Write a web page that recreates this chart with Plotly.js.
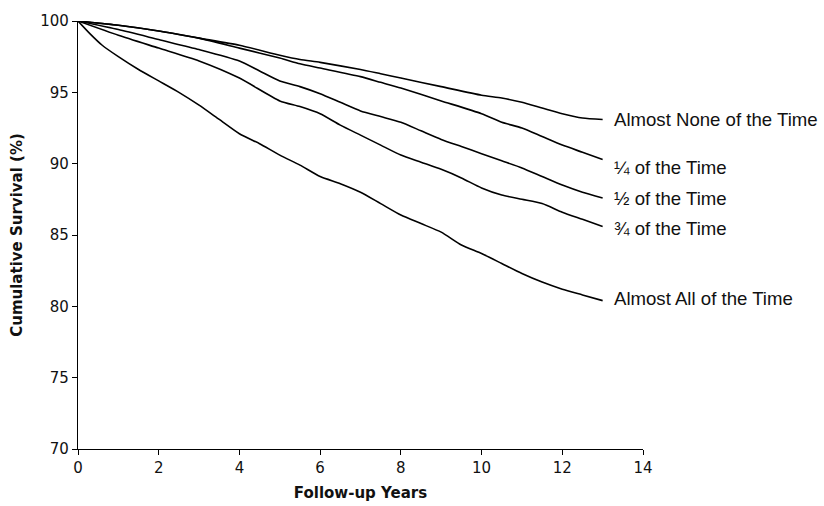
<!DOCTYPE html>
<html>
<head>
<meta charset="utf-8">
<script src="https://cdn.plot.ly/plotly-3.0.1.min.js"></script>
<style>html,body{margin:0;padding:0;background:#fff;}#chart{width:824px;height:506px;}</style>
</head>
<body>
<div id="chart"></div>
<script>
// Follow-up years (x) for each curve
var yearsNone = [0, 1, 2, 3, 4, 5, 5.5, 6, 7, 7.5, 8, 9, 10, 10.5, 11, 11.5, 12, 12.5, 13];
var survNone  = [100, 99.7, 99.3, 98.8, 98.3, 97.6, 97.3, 97.1, 96.6, 96.3, 96.0, 95.4, 94.8, 94.6, 94.3, 93.9, 93.5, 93.2, 93.1];

var yearsQuarter = [0, 1, 2, 3, 4, 5, 5.5, 6, 7, 7.5, 8, 9, 10, 10.5, 11, 11.5, 12, 12.5, 13];
var survQuarter  = [100, 99.7, 99.3, 98.8, 98.1, 97.4, 97.0, 96.7, 96.1, 95.7, 95.3, 94.4, 93.5, 92.9, 92.5, 91.9, 91.3, 90.8, 90.3];

var yearsHalf = [0, 1, 2, 3, 4, 4.5, 5, 5.5, 6, 6.5, 7, 7.5, 8, 8.5, 9, 9.5, 10, 10.5, 11, 11.5, 12, 12.5, 13];
var survHalf  = [100, 99.4, 98.7, 98.0, 97.2, 96.5, 95.8, 95.4, 94.9, 94.3, 93.7, 93.3, 92.9, 92.3, 91.7, 91.2, 90.7, 90.2, 89.7, 89.1, 88.5, 88.0, 87.6];

var yearsThreeQ = [0, 1, 2, 3, 4, 5, 5.5, 6, 6.5, 7, 7.5, 8, 8.5, 9, 9.5, 10, 10.5, 11, 11.5, 12, 12.5, 13];
var survThreeQ  = [100, 99.0, 98.1, 97.2, 96.0, 94.4, 94.0, 93.5, 92.7, 92.0, 91.3, 90.6, 90.1, 89.6, 89.0, 88.3, 87.8, 87.5, 87.2, 86.6, 86.1, 85.6];

var yearsAll = [0, 0.3, 0.6, 1, 1.5, 2, 2.5, 3, 3.5, 4, 4.5, 5, 5.5, 6, 6.5, 7, 7.5, 8, 8.5, 9, 9.5, 10, 10.5, 11, 11.5, 12, 12.5, 13];
var survAll  = [100, 99.1, 98.3, 97.5, 96.6, 95.8, 95.0, 94.1, 93.1, 92.1, 91.4, 90.6, 89.9, 89.1, 88.6, 88.0, 87.2, 86.4, 85.8, 85.2, 84.3, 83.7, 83.0, 82.3, 81.7, 81.2, 80.8, 80.4];

var seriesNames = ["Almost None of the Time", "\u00BC of the Time", "\u00BD of the Time", "\u00BE of the Time", "Almost All of the Time"];
var labelY = [93.12, 89.76, 87.58, 85.48, 80.58];

var xTicks = [0, 2, 4, 6, 8, 10, 12, 14];
var yTicks = [70, 75, 80, 85, 90, 95, 100];

var xs = [yearsNone, yearsQuarter, yearsHalf, yearsThreeQ, yearsAll];
var ys = [survNone, survQuarter, survHalf, survThreeQ, survAll];

var traces = xs.map(function (x, i) {
  return {
    x: x, y: ys[i], type: "scatter", mode: "lines", name: seriesNames[i],
    line: {color: "#000", width: 1.6, shape: "spline", smoothing: 0.6},
    hoverinfo: "skip"
  };
});

var annotations = seriesNames.map(function (n, i) {
  return {
    x: 13.22, y: labelY[i], xref: "x", yref: "y", text: n, showarrow: false,
    xanchor: "left", yanchor: "middle",
    font: {family: "Liberation Sans, Arial, sans-serif", size: 18.6, color: "#111"}
  };
});

var tickFont = {family: "DejaVu Sans, sans-serif", size: 15, color: "#111"};
var titleFont = {family: "DejaVu Sans, sans-serif", size: 15, color: "#111", weight: "bold"};

var layout = {
  width: 824, height: 506,
  margin: {l: 78, r: 181, t: 21, b: 57},
  paper_bgcolor: "#fff", plot_bgcolor: "#fff",
  showlegend: false,
  annotations: annotations,
  xaxis: {
    range: [0, 14], tickvals: xTicks, ticktext: xTicks.map(String),
    showgrid: false, zeroline: false, showline: true, linecolor: "#000", linewidth: 1.2,
    ticks: "outside", ticklen: 5, tickcolor: "#000",
    tickfont: tickFont,
    title: {text: "Follow-up Years", font: titleFont, standoff: 11}
  },
  yaxis: {
    range: [70, 100], tickvals: yTicks, ticktext: yTicks.map(String),
    showgrid: false, zeroline: false, showline: true, linecolor: "#000", linewidth: 1.2,
    ticks: "outside", ticklen: 5, tickcolor: "#000",
    tickfont: tickFont,
    title: {text: "Cumulative Survival (%)", font: titleFont, standoff: 14}
  }
};

Plotly.newPlot("chart", traces, layout, {displayModeBar: false, staticPlot: true});
</script>
</body>
</html>
